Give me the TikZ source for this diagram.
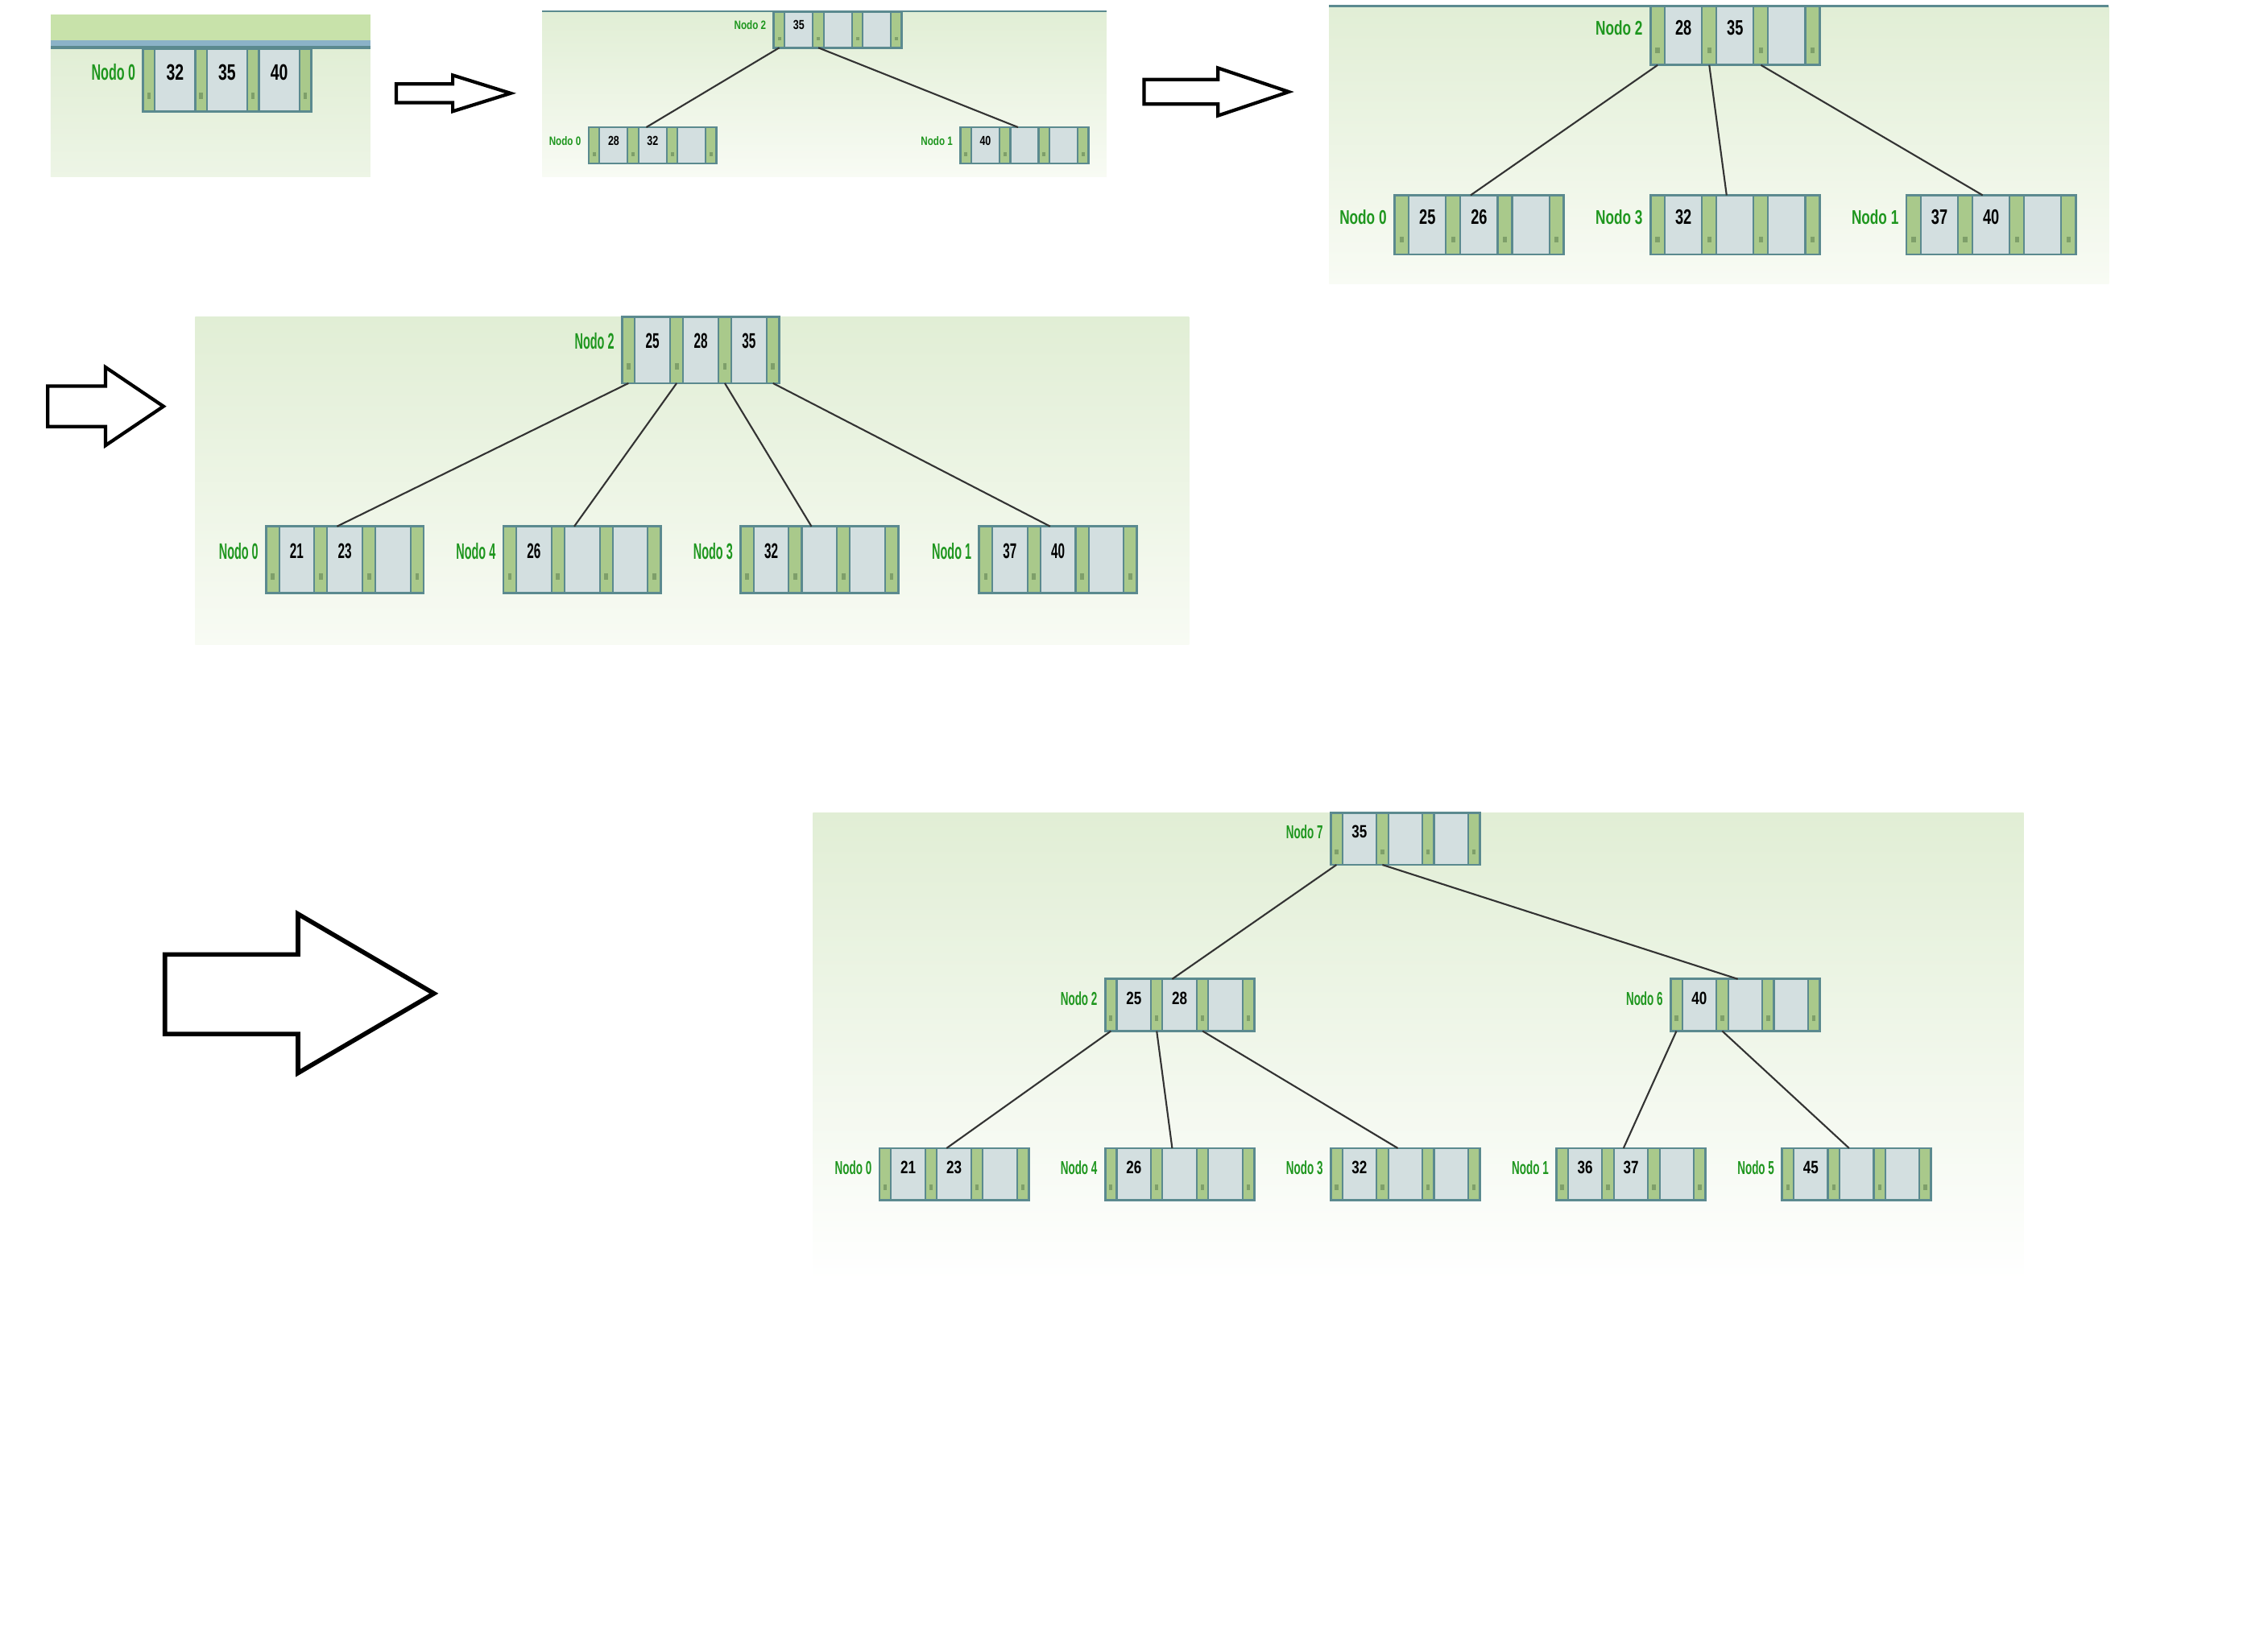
\documentclass[tikz,border=0pt]{standalone}
\usepackage{fontspec}
\setmainfont{Liberation Sans}
\newfontfamily\fontA[FakeStretch=0.52]{Liberation Sans}
\newfontfamily\fontB[FakeStretch=0.58]{Liberation Sans}
\newfontfamily\fontC[FakeStretch=0.7]{Liberation Sans}
\newfontfamily\fontD[FakeStretch=0.77]{Liberation Sans}
\usetikzlibrary{calc,fit}

\definecolor{stripgreen}{HTML}{A9C98B}
\definecolor{gripgreen}{HTML}{7E9F6A}
\definecolor{cellgray}{HTML}{D3DFE0}
\definecolor{boxline}{HTML}{5B8A8F}
\definecolor{labgreen}{HTML}{1E961E}
\definecolor{bgtop}{HTML}{E1EED5}
\definecolor{bgbot}{HTML}{F8FBF4}
\definecolor{bandgreen}{HTML}{C8E2AA}
\definecolor{bandblue}{HTML}{8BB2C7}

\newcommand{\sw}{8}
\newcommand{\cw}{28}
\newcommand{\nh}{43}
\newcommand{\lfs}{7.9}
\newcommand{\kfs}{7.9}
\newcommand{\lff}{\fontB}
\newcommand{\kff}{\fontC}

% one B-tree node: name, x, y, three keys, label
\newcommand{\btnode}[7]{
  \coordinate (#1-nw) at (#2,#3);
  \coordinate (#1-se) at ({#2+4*\sw+3*\cw},{#3+\nh});
  \node[inner sep=0pt, outer sep=0pt, fit=(#1-nw)(#1-se)] (#1) {};
  \foreach \i in {0,...,3}{
    \fill[stripgreen] ({#2+\i*(\sw+\cw)},#3) rectangle +(\sw,\nh);
    \fill[gripgreen] ({#2+\i*(\sw+\cw)+0.35*\sw},{#3+0.7*\nh}) rectangle +({0.3*\sw},{0.1*\nh});
    \coordinate (#1-p\i) at ({#2+\i*(\sw+\cw)+\sw/2},{#3+\nh});
  }
  \foreach \i in {0,...,2}{
    \draw[boxline, fill=cellgray, line width=0.6pt] ({#2+\sw+\i*(\sw+\cw)},#3) rectangle +(\cw,\nh);
  }
  \node[key] (#1-k0) at ({#2+\sw+\cw/2},{#3+0.37*\nh}) {#4};
  \node[key] (#1-k1) at ({#2+2*\sw+1.5*\cw},{#3+0.37*\nh}) {#5};
  \node[key] (#1-k2) at ({#2+3*\sw+2.5*\cw},{#3+0.37*\nh}) {#6};
  \draw[boxedge] (#1-nw) rectangle (#1-se);
  \node[lbl] (#1-lab) at ({#2-5},{#3+0.37*\nh}) {#7};
}
\newcommand{\ctop}[1]{($(#1.north west)!.45!(#1.north east)$)}

\begin{document}
\begin{tikzpicture}[x=0.1796mm, y=-0.1796mm,
    key/.style={inner sep=0pt, font=\kff\bfseries\fontsize{\kfs pt}{\kfs pt}\selectfont},
    lbl/.style={inner sep=0pt, anchor=east, text=labgreen, font=\lff\bfseries\fontsize{\lfs pt}{\lfs pt}\selectfont},
    boxedge/.style={draw=boxline, line width=0.8pt},
    edge/.style={draw=black!80, line width=0.6pt},
    panel/.style={top color=bgtop, bottom color=bgbot},
    bigarrow/.style={draw=black, fill=white, line width=1.2pt, line join=miter}]

  \useasboundingbox[fill=white] (0,0) rectangle (1568,1131.5);

  % panel 1
  \shade[top color=bgtop, bottom color=bgtop!60!white] (35,34) rectangle (256,122);
  \fill[bandgreen] (35,10) rectangle (256,28);
  \fill[bandblue] (35,28) rectangle (256,32);
  \fill[boxline] (35,32) rectangle (256,34);
  \btnode{a0}{99}{34}{32}{35}{40}{Nodo 0}

  \draw[bigarrow] (274,58) -- (313,58) -- (313,52) -- (353,64.5) -- (313,77) -- (313,71) -- (274,71) -- cycle;

  % panel 2
  \shade[panel] (375,8) rectangle (765,122);
  \draw[boxline, line width=0.6pt] (375,8) -- (765,8);
  \renewcommand{\sw}{7.5}\renewcommand{\cw}{19.5}\renewcommand{\nh}{25}
  \renewcommand{\lfs}{4.3}\renewcommand{\kfs}{4.6}
  \renewcommand{\lff}{\fontD}\renewcommand{\kff}{\fontD}
  \btnode{b2}{535}{8}{35}{}{}{Nodo 2}
  \btnode{b0}{407}{88}{28}{32}{}{Nodo 0}
  \btnode{b1}{664}{88}{40}{}{}{Nodo 1}
  \draw[edge] (b2-p0) -- \ctop{b0};
  \draw[edge] (b2-p1) -- \ctop{b1};

  \draw[bigarrow] (791,55) -- (842,55) -- (842,47) -- (891,63.5) -- (842,80) -- (842,72) -- (791,72) -- cycle;

  % panel 3
  \shade[panel] (919,4) rectangle (1458,196);
  \draw[boxline, line width=0.8pt] (919,4) -- (1458,4);
  \renewcommand{\sw}{10}\renewcommand{\cw}{25.7}\renewcommand{\nh}{41}
  \renewcommand{\lfs}{7}\renewcommand{\kfs}{7.4}
  \renewcommand{\lff}{\fontC}\renewcommand{\kff}{\fontC}
  \btnode{c2}{1141}{4}{28}{35}{}{Nodo 2}
  \btnode{c0}{964}{135}{25}{26}{}{Nodo 0}
  \btnode{c3}{1141}{135}{32}{}{}{Nodo 3}
  \btnode{c1}{1318}{135}{37}{40}{}{Nodo 1}
  \draw[edge] (c2-p0) -- \ctop{c0};
  \draw[edge] (c2-p1) -- \ctop{c3};
  \draw[edge] (c2-p2) -- \ctop{c1};

  \draw[bigarrow] (33,267) -- (73,267) -- (73,254) -- (113,281) -- (73,308) -- (73,295) -- (33,295) -- cycle;

  % panel 4
  \shade[panel] (135,219) rectangle (822,446);
  \renewcommand{\sw}{9}\renewcommand{\cw}{24.3}\renewcommand{\nh}{46}
  \renewcommand{\lfs}{7.9}\renewcommand{\kfs}{7.5}
  \renewcommand{\lff}{\fontA}\renewcommand{\kff}{\fontB}
  \btnode{d2}{430}{219}{25}{28}{35}{Nodo 2}
  \btnode{d0}{184}{364}{21}{23}{}{Nodo 0}
  \btnode{d4}{348}{364}{26}{}{}{Nodo 4}
  \btnode{d3}{512}{364}{32}{}{}{Nodo 3}
  \btnode{d1}{677}{364}{37}{40}{}{Nodo 1}
  \draw[edge] (d2-p0) -- \ctop{d0};
  \draw[edge] (d2-p1) -- \ctop{d4};
  \draw[edge] (d2-p2) -- \ctop{d3};
  \draw[edge] (d2-p3) -- \ctop{d1};

  \draw[bigarrow, line width=1.6pt] (114,660) -- (206,660) -- (206,632) -- (300,687) -- (206,742) -- (206,715) -- (114,715) -- cycle;

  % panel 5
  \shade[panel, bottom color=white] (562,562) rectangle (1399,886);
  \renewcommand{\sw}{8}\renewcommand{\cw}{23.7}\renewcommand{\nh}{36}
  \renewcommand{\lfs}{6.6}\renewcommand{\kfs}{6.3}
  \renewcommand{\lff}{\fontB}\renewcommand{\kff}{\fontD}
  \btnode{e7}{920}{562}{35}{}{}{Nodo 7}
  \btnode{e2}{764}{677}{25}{28}{}{Nodo 2}
  \btnode{e6}{1155}{677}{40}{}{}{Nodo 6}
  \btnode{e0}{608}{794}{21}{23}{}{Nodo 0}
  \btnode{e4}{764}{794}{26}{}{}{Nodo 4}
  \btnode{e3}{920}{794}{32}{}{}{Nodo 3}
  \btnode{e1}{1076}{794}{36}{37}{}{Nodo 1}
  \btnode{e5}{1232}{794}{45}{}{}{Nodo 5}
  \draw[edge] (e7-p0) -- \ctop{e2};
  \draw[edge] (e7-p1) -- \ctop{e6};
  \draw[edge] (e2-p0) -- \ctop{e0};
  \draw[edge] (e2-p1) -- \ctop{e4};
  \draw[edge] (e2-p2) -- \ctop{e3};
  \draw[edge] (e6-p0) -- \ctop{e1};
  \draw[edge] (e6-p1) -- \ctop{e5};
\end{tikzpicture}
\end{document}
